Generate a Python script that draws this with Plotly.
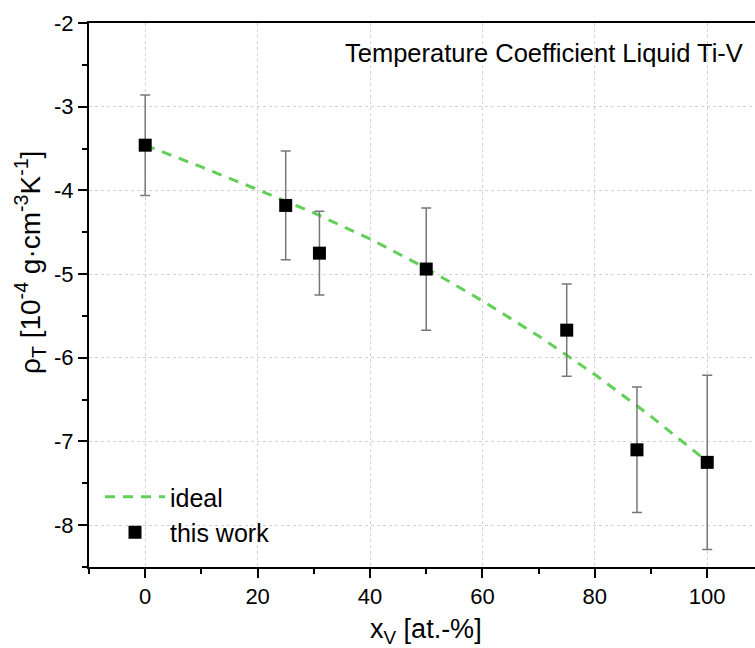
import plotly.graph_objects as go

# data
x_meas = [0, 25, 31, 50, 75, 87.5, 100]
rho_meas = [-3.46, -4.18, -4.75, -4.94, -5.67, -7.10, -7.25]
rho_err = [0.60, 0.65, 0.50, 0.73, 0.55, 0.75, 1.04]

x_ideal = [0, 10, 20, 30, 40, 50, 60, 70, 75, 80, 90, 100]
rho_ideal = [-3.46, -3.72, -3.99, -4.27, -4.58, -4.93, -5.32, -5.74, -5.97, -6.20, -6.70, -7.24]

x_ticks = [0, 20, 40, 60, 80, 100]
x_ticktext = ["0", "20", "40", "60", "80", "100"]
y_ticks = [-8, -7, -6, -5, -4, -3, -2]
y_ticktext = ["-8", "-7", "-6", "-5", "-4", "-3", "-2"]

FONT = "Liberation Sans, Arial, sans-serif"

fig = go.Figure()
fig.add_trace(go.Scatter(
    x=x_ideal, y=rho_ideal, mode="lines", name="ideal",
    line=dict(color="#62d058", width=3, dash="10px,8px"),
))
fig.add_trace(go.Scatter(
    x=x_meas, y=rho_meas, mode="markers", name="this work",
    marker=dict(symbol="square", size=13, color="black", line=dict(width=0)),
    error_y=dict(type="data", array=rho_err, visible=True,
                 color="#777777", thickness=1.5, width=5),
))

axis_common = dict(
    showline=True, linecolor="black", linewidth=2,
    ticks="outside", ticklen=9, tickwidth=2, tickcolor="black",
    showgrid=True, gridcolor="#d2d2d2", griddash="dot", gridwidth=1,
    zeroline=False,
    tickfont=dict(family=FONT, size=22, color="black"),
)

fig.update_xaxes(
    range=[-10, 108.5], tickvals=x_ticks, ticktext=x_ticktext, mirror=True,
    minor=dict(dtick=10, tick0=0, ticks="outside", ticklen=5, tickwidth=2,
               tickcolor="black", showgrid=False),
    **axis_common,
)
fig.update_yaxes(
    range=[-8.5, -2], tickvals=y_ticks, ticktext=y_ticktext, mirror=False,
    minor=dict(dtick=0.5, tick0=0, ticks="outside", ticklen=5, tickwidth=2,
               tickcolor="black", showgrid=False),
    **axis_common,
)

fig.add_annotation(
    text="Temperature Coefficient Liquid Ti-V",
    xref="paper", yref="paper", x=(745 - 89) / 666, y=(567 - 53) / 544,
    xanchor="right", yanchor="middle", showarrow=False,
    font=dict(family=FONT, size=25.5, color="black"),
)
fig.add_annotation(
    text="x<sub>V</sub> [at.-%]",
    xref="paper", yref="paper", x=(426 - 89) / 666, y=(567 - 631) / 544,
    xanchor="center", yanchor="middle", showarrow=False,
    font=dict(family=FONT, size=27, color="black"),
)
fig.add_annotation(
    text="ρ<sub>T</sub> [10<sup>-4</sup> g·cm<sup>-3</sup>K<sup>-1</sup>]",
    xref="paper", yref="paper", x=(30 - 89) / 666, y=(567 - 263) / 544,
    xanchor="center", yanchor="middle", showarrow=False, textangle=-90,
    font=dict(family=FONT, size=28, color="black"),
)

fig.update_layout(
    width=755, height=648,
    margin=dict(l=89, r=0, t=23, b=81),
    paper_bgcolor="white", plot_bgcolor="white",
    showlegend=True,
    legend=dict(
        x=(100 - 89) / 666, y=(567 - 474) / 544, xanchor="left", yanchor="top",
        bgcolor="rgba(0,0,0,0)", borderwidth=0, itemwidth=60,
        font=dict(family=FONT, size=25, color="black"),
        tracegroupgap=0,
    ),
)

fig.write_html("out.html")
